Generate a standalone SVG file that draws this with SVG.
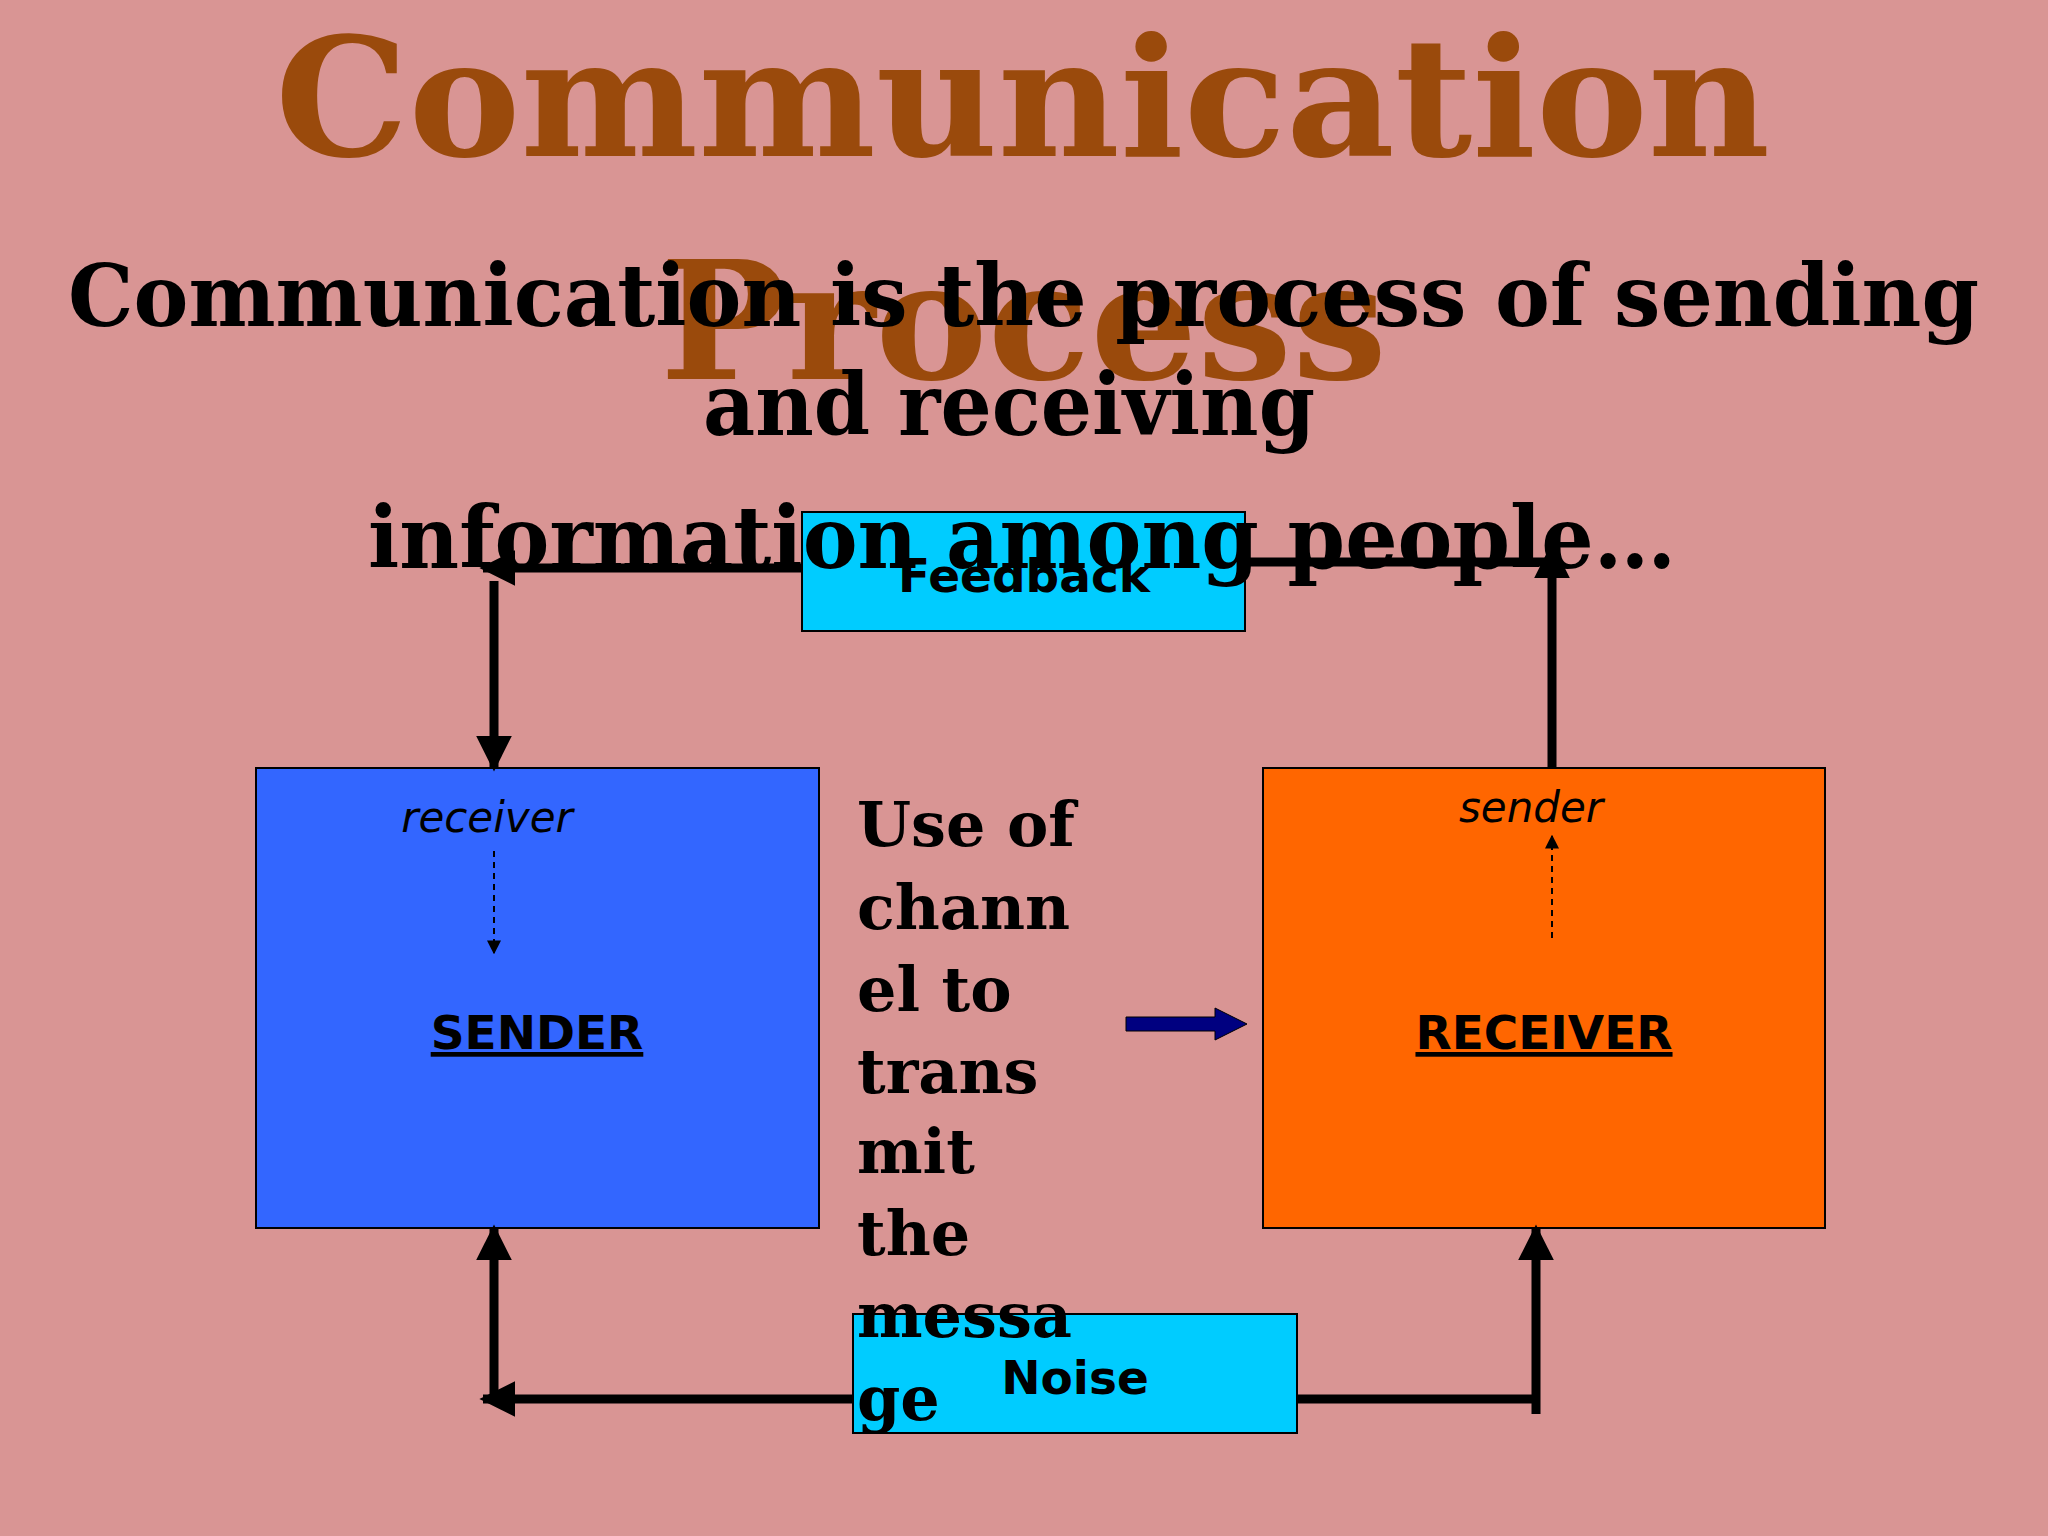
<svg xmlns="http://www.w3.org/2000/svg" width="2048" height="1536" viewBox="0 0 2048 1536">
<defs>
<style>
.title{font-family:"DejaVu Serif","Liberation Serif",serif;font-weight:bold;fill:#9a4a0c;font-size:165px}
.blk{font-family:"DejaVu Serif","Liberation Serif",serif;font-weight:bold;fill:#000;font-size:86px}
.mid{font-family:"DejaVu Serif","Liberation Serif",serif;font-weight:bold;fill:#000;font-size:62px}
.lab{font-family:"DejaVu Sans","Liberation Sans",sans-serif;font-weight:bold;fill:#000;font-size:47px;text-anchor:middle}
.it{font-family:"DejaVu Sans","Liberation Sans",sans-serif;font-style:italic;fill:#000;font-size:42px;text-anchor:middle}
.ln{stroke:#000;stroke-width:9;fill:none}
.ds{stroke:#000;stroke-width:2;stroke-dasharray:6,5;fill:none}
</style>
<marker id="ah" viewBox="0 0 10 10" refX="9" refY="5" markerWidth="4" markerHeight="4" orient="auto" markerUnits="strokeWidth"><path d="M0,0L10,5L0,10z" fill="#000"/></marker>
<marker id="sh" viewBox="0 0 10 10" refX="9" refY="5" markerWidth="7" markerHeight="7" orient="auto" markerUnits="strokeWidth"><path d="M0,0L10,5L0,10z" fill="#000"/></marker>
</defs>
<rect width="2048" height="1536" fill="#d99594"/>
<text class="title" x="275" y="156" textLength="1495" lengthAdjust="spacingAndGlyphs">Communication</text>
<text class="title" x="660" y="379" textLength="727" lengthAdjust="spacingAndGlyphs">Process</text>
<g id="feedback"><rect x="802" y="512" width="443" height="119" fill="#00ccff" stroke="#000" stroke-width="2"/><text class="lab" x="1024" y="592">Feedback</text></g>
<g id="noise"><rect x="853" y="1314" width="444" height="119" fill="#00ccff" stroke="#000" stroke-width="2"/><text class="lab" x="1075" y="1394">Noise</text></g>
<text class="blk" x="68" y="326" textLength="1911" lengthAdjust="spacingAndGlyphs">Communication is the  process of sending</text>
<text class="blk" x="703" y="435" textLength="612" lengthAdjust="spacingAndGlyphs">and receiving</text>
<text class="blk" x="368" y="568" textLength="1308" lengthAdjust="spacingAndGlyphs">information among people…</text>
<g id="sender"><rect x="256" y="768" width="563" height="460" fill="#3366ff" stroke="#000" stroke-width="2"/>
<text class="it" x="487" y="832">receiver</text>
<text class="lab" x="537" y="1049" text-decoration="underline">SENDER</text></g>
<g id="receiver"><rect x="1263" y="768" width="562" height="460" fill="#ff6600" stroke="#000" stroke-width="2"/>
<text class="it" x="1531" y="822">sender</text>
<text class="lab" x="1544" y="1049" text-decoration="underline">RECEIVER</text></g>
<g id="channel">
<text class="mid" x="857" y="846">Use of</text>
<text class="mid" x="857" y="929">chann</text>
<text class="mid" x="857" y="1011">el to</text>
<text class="mid" x="857" y="1093">trans</text>
<text class="mid" x="857" y="1173">mit</text>
<text class="mid" x="857" y="1255">the</text>
<text class="mid" x="857" y="1337">messa</text>
<text class="mid" x="857" y="1420">ge</text>
</g>
<g id="connectors">
<path class="ln" d="M802,568H483" marker-end="url(#ah)"/>
<path class="ln" d="M494,581V768" marker-end="url(#ah)"/>
<path class="ln" d="M1245,562H1556"/>
<path class="ln" d="M1552,768V546" marker-end="url(#ah)"/>
<path class="ln" d="M853,1399H483" marker-end="url(#ah)"/>
<path class="ln" d="M494,1399V1228" marker-end="url(#ah)"/>
<path class="ln" d="M1297,1399H1540"/>
<path class="ln" d="M1536,1414V1228" marker-end="url(#ah)"/>
<path class="ds" d="M494,851V953" marker-end="url(#sh)"/>
<path class="ds" d="M1552,938V836" marker-end="url(#sh)"/>
<path d="M1126,1017H1215V1008L1247,1024L1215,1040V1031H1126z" fill="#000080" stroke="#000" stroke-width="1"/>
</g>
</svg>
